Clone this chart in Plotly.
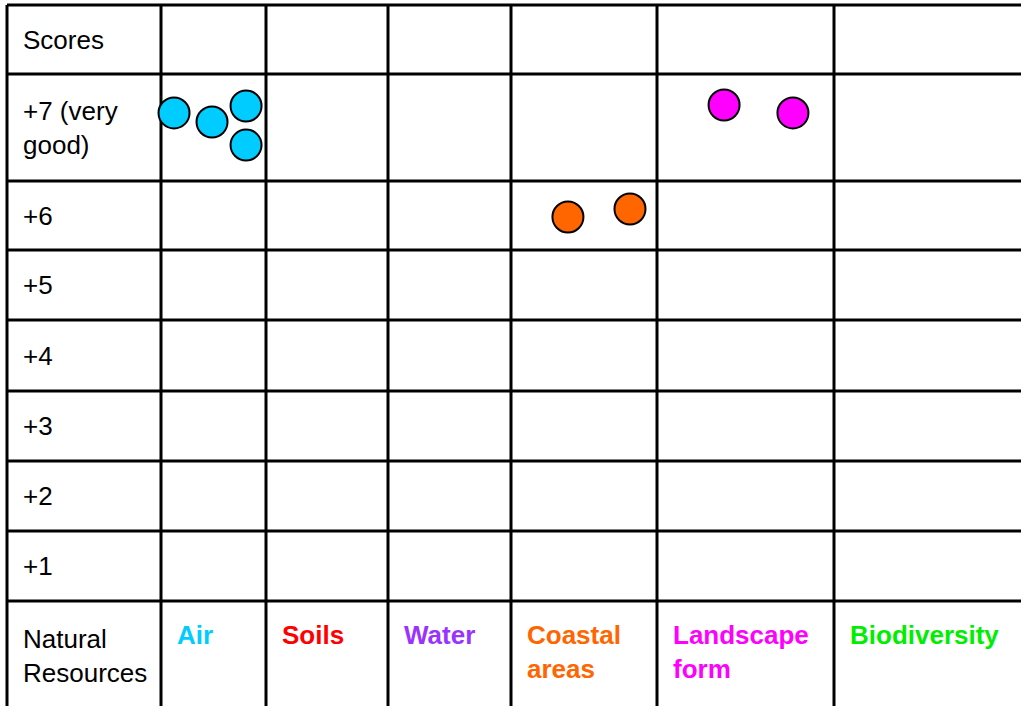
import plotly.graph_objects as go

# ---- data ----
resources = ["Air", "Soils", "Water", "Coastal<br>areas", "Landscape<br>form", "Biodiversity"]
resource_colors = ["#00CCFF", "#FF0000", "#9933FF", "#FF6600", "#FF00FF", "#00EE00"]
score_labels = ["+7 (very<br>good)", "+6", "+5", "+4", "+3", "+2", "+1"]
score_values = [7, 6, 5, 4, 3, 2, 1]

# each dot: resource index, score, and its position inside the cell (fractions)
dot_resource = [0, 0, 0, 0, 3, 3, 4, 4]
dot_score = [7, 7, 7, 7, 6, 6, 7, 7]
dot_fx = [0.124, 0.486, 0.81, 0.81, 0.39, 0.815, 0.379, 0.768]
dot_fy = [0.364, 0.449, 0.299, 0.664, 0.522, 0.406, 0.29, 0.364]

# ---- table geometry (pixel-unit axes) ----
W, H = 1021, 706
col_edges = [7, 161, 266, 388, 511, 657, 834, 1021]
row_edges = [5, 74, 181, 250, 320, 391, 461, 531, 601, 706]  # header, +7..+1, resources

def score_row(s):
    return 1 + score_values.index(s)

xs, ys, cols = [], [], []
for r, s, fx, fy in zip(dot_resource, dot_score, dot_fx, dot_fy):
    c = r + 1
    x0, x1 = col_edges[c], col_edges[c + 1]
    ri = score_row(s)
    y0, y1 = row_edges[ri], row_edges[ri + 1]
    xs.append(x0 + fx * (x1 - x0))
    ys.append(y0 + fy * (y1 - y0))
    cols.append(resource_colors[r])

fig = go.Figure()
fig.add_trace(go.Scatter(
    x=xs, y=ys, mode="markers",
    marker=dict(size=31, color=cols, line=dict(color="black", width=2)),
    hoverinfo="skip", showlegend=False,
))

shapes = []
for x in col_edges[:-1]:
    shapes.append(dict(type="line", x0=x, x1=x, y0=row_edges[0], y1=H + 5,
                       line=dict(color="black", width=3), layer="below"))
for y in row_edges[:-1]:
    shapes.append(dict(type="line", x0=col_edges[0], x1=W + 5, y0=y, y1=y,
                       line=dict(color="black", width=3), layer="below"))

font_main = "Liberation Sans, Arial, sans-serif"
FS = 26
ann = []
pad = 14
# header cell
ann.append(dict(x=col_edges[0] + pad, y=(row_edges[0] + row_edges[1]) / 2, text="Scores",
                xanchor="left", yanchor="middle", showarrow=False,
                font=dict(family=font_main, size=FS, color="black"), align="left"))
for i, lab in enumerate(score_labels):
    ri = i + 1
    ann.append(dict(x=col_edges[0] + pad, y=(row_edges[ri] + row_edges[ri + 1]) / 2, text=lab,
                    xanchor="left", yanchor="middle", showarrow=False,
                    font=dict(family=font_main, size=FS, color="black"), align="left"))
last = len(row_edges) - 2
ann.append(dict(x=col_edges[0] + pad, y=(row_edges[last] + row_edges[last + 1]) / 2 + 2,
                text="Natural<br>Resources", xanchor="left", yanchor="middle", showarrow=False,
                font=dict(family=font_main, size=FS, color="black"), align="left"))
for i, (lab, c) in enumerate(zip(resources, resource_colors)):
    ann.append(dict(x=col_edges[i + 1] + pad, y=row_edges[last] + 17, text="<b>" + lab + "</b>",
                    xanchor="left", yanchor="top", showarrow=False,
                    font=dict(family=font_main, size=FS, color=c), align="left"))

fig.update_layout(
    width=W, height=H,
    margin=dict(l=0, r=0, t=0, b=0),
    paper_bgcolor="white", plot_bgcolor="white",
    xaxis=dict(range=[0, W], visible=False, fixedrange=True),
    yaxis=dict(range=[H, 0], visible=False, fixedrange=True),
    shapes=shapes, annotations=ann,
)

fig.write_html("out.html", config={"displayModeBar": False},
               post_script="document.body.style.margin='0';")
